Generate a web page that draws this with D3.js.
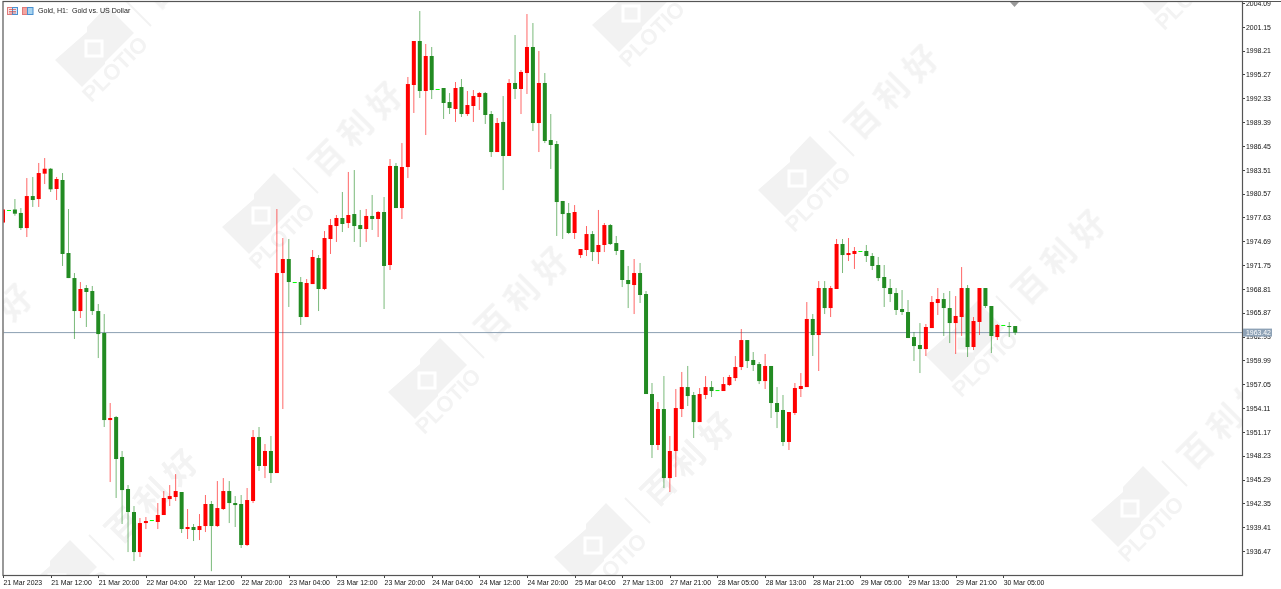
<!DOCTYPE html>
<html>
<head>
<meta charset="utf-8">
<style>
    html, body { margin: 0; padding: 0; background: #fff; overflow: hidden; }
    #chart { width: 1281px; height: 589px; }
    #chart svg { filter: blur(0.3px); }
    .axis path, .axis line { stroke: #444; shape-rendering: crispEdges; }
    .axis text { font-family: "Liberation Sans", sans-serif; font-size: 6.9px; fill: #111; }
    .mark { font-family: "Noto Sans CJK SC", sans-serif; fill: #f3f3f3; }
</style>
<script src="https://cdnjs.cloudflare.com/ajax/libs/d3/7.8.5/d3.min.js"></script>
</head>
<body>
<div id="chart"></div>
<script>

// hourly gold candles
const opens = [
    1977.00,1978.55,1978.61,1978.18,1976.32,1980.27,1979.90,1983.03,1983.64,1981.14,
    1982.25,1973.24,1970.15,1966.08,1968.92,1968.55,1966.08,1963.37,1952.63,1953.00,
    1948.07,1944.12,1941.28,1936.34,1939.92,1940.29,1940.05,1940.91,1942.88,1943.13,
    1943.75,1939.18,1939.43,1939.06,1939.55,1942.27,1939.55,1941.65,1943.87,1942.39,
    1942.27,1937.21,1942.64,1950.53,1946.96,1948.81,1946.09,1970.77,1972.50,1969.66,
    1969.66,1965.34,1969.41,1972.62,1968.80,1974.97,1976.57,1977.56,1976.94,1978.05,
    1976.69,1976.20,1977.81,1977.44,1978.30,1971.76,1983.98,1978.79,1983.85,1993.97,
    1999.40,1993.23,1997.55,1993.48,1993.60,1991.87,1991.01,1993.72,1990.39,1991.38,
    1992.49,1992.98,1990.39,1985.70,1989.41,1985.21,1994.22,1993.48,1995.45,1998.66,
    1989.28,1994.22,1987.18,1986.69,1979.66,1978.18,1975.71,1972.99,1973.61,1975.58,
    1973.36,1974.23,1976.69,1974.47,1973.61,1969.91,1969.29,1970.77,1968.18,1955.84,
    1949.55,1953.99,1945.47,1948.81,1953.99,1956.70,1955.72,1952.38,1955.72,1956.70,
    1956.33,1956.21,1956.95,1957.81,1959.17,1962.50,1960.04,1959.54,1957.44,1959.30,
    1954.73,1953.87,1949.92,1953.50,1956.46,1956.70,1965.10,1963.12,1968.92,1966.45,
    1968.80,1974.35,1972.99,1973.12,1973.49,1973.49,1972.87,1971.76,1970.28,1968.92,
    1968.30,1966.33,1965.96,1962.87,1961.89,1961.39,1963.98,1967.07,1967.56,1966.45,
    1964.60,1965.34,1968.92,1961.64,1964.73,1968.92,1966.70,1962.87,1964.36,1964.23,
    1964.23
];
const highs = [
    1978.67,1978.55,1979.90,1978.79,1982.49,1982.62,1984.35,1984.96,1983.73,1982.62,
    1983.11,1978.67,1970.77,1969.66,1969.29,1969.17,1966.95,1965.71,1954.73,1953.13,
    1948.81,1944.61,1942.02,1940.54,1940.66,1940.29,1942.39,1943.87,1944.61,1945.97,
    1943.75,1941.65,1939.80,1941.03,1943.38,1942.64,1945.10,1945.47,1945.10,1943.25,
    1943.38,1944.24,1951.40,1951.77,1949.67,1950.66,1978.67,1975.09,1974.97,1969.66,
    1970.28,1970.03,1973.61,1972.99,1975.95,1977.44,1977.93,1980.77,1983.24,1983.48,
    1978.55,1978.67,1980.40,1978.42,1980.15,1984.84,1984.35,1986.81,1994.96,1999.40,
    2003.10,1999.03,1998.66,1993.48,1993.60,1992.98,1994.34,1994.71,1993.23,1993.35,
    1993.11,1993.11,1990.76,1989.90,1992.61,1994.71,2000.14,1995.82,2002.73,2001.62,
    1998.17,1995.45,1990.39,1987.06,1979.66,1979.41,1979.16,1973.73,1976.57,1975.95,
    1978.55,1976.94,1976.82,1975.34,1973.61,1971.64,1972.50,1972.01,1968.55,1957.20,
    1954.85,1958.06,1950.66,1956.46,1958.56,1959.30,1956.09,1956.58,1958.06,1957.44,
    1956.33,1957.94,1958.19,1960.53,1963.86,1962.50,1961.02,1959.79,1960.78,1959.30,
    1956.70,1955.72,1953.62,1957.20,1958.43,1967.19,1965.71,1969.78,1969.78,1969.17,
    1974.97,1974.97,1975.09,1973.98,1973.49,1974.23,1973.24,1972.75,1971.76,1970.03,
    1968.92,1968.67,1967.44,1963.49,1964.60,1964.48,1967.93,1968.92,1968.30,1968.55,
    1967.93,1971.51,1969.29,1965.34,1968.92,1968.92,1966.70,1964.48,1964.36,1964.72,
    1964.23
];
const lows = [
    1976.94,1978.55,1977.84,1976.08,1975.21,1978.92,1978.92,1981.75,1980.77,1979.78,
    1971.64,1970.15,1962.63,1965.22,1964.11,1965.59,1960.28,1951.77,1944.98,1943.01,
    1939.80,1936.34,1935.23,1935.73,1939.18,1940.29,1939.18,1940.91,1942.02,1942.64,
    1938.69,1937.95,1937.70,1937.82,1938.81,1933.98,1939.43,1941.53,1939.92,1939.43,
    1936.84,1937.08,1942.39,1946.34,1945.47,1944.86,1946.09,1953.99,1966.58,1969.66,
    1964.36,1965.34,1969.41,1966.08,1968.67,1973.12,1974.60,1975.83,1976.32,1974.60,
    1973.98,1974.60,1976.08,1975.21,1966.33,1971.14,1978.79,1977.44,1982.49,1990.52,
    1992.37,1987.80,1992.24,1993.48,1989.78,1990.39,1989.41,1990.02,1990.15,1989.41,
    1990.89,1989.16,1985.09,1985.70,1981.01,1985.21,1992.24,1990.39,1992.86,1988.29,
    1985.70,1986.81,1983.61,1975.34,1974.97,1975.58,1974.97,1972.62,1972.87,1972.25,
    1971.88,1973.36,1974.23,1972.99,1969.04,1966.45,1965.71,1967.07,1955.84,1947.94,
    1948.93,1944.24,1943.75,1945.60,1953.00,1954.36,1950.41,1952.38,1955.22,1955.47,
    1956.33,1956.21,1956.83,1957.44,1958.80,1959.05,1958.68,1957.07,1956.46,1952.88,
    1951.64,1949.42,1948.93,1953.25,1955.47,1956.70,1960.53,1958.68,1965.71,1965.34,
    1968.80,1970.77,1972.25,1971.27,1973.49,1972.13,1971.14,1969.78,1966.58,1967.19,
    1965.59,1965.59,1962.75,1959.91,1958.43,1960.53,1963.98,1965.59,1963.00,1962.13,
    1960.78,1963.00,1960.41,1961.27,1963.12,1966.45,1960.90,1962.50,1964.36,1962.87,
    1963.12
];
const closes = [
    1978.61,1978.55,1978.09,1976.32,1980.27,1979.78,1983.11,1983.64,1981.10,1982.37,
    1973.12,1970.15,1966.08,1968.80,1968.43,1966.08,1963.24,1952.63,1952.88,1947.82,
    1943.99,1941.28,1936.34,1939.92,1940.17,1940.29,1940.91,1943.01,1943.25,1943.87,
    1939.18,1939.43,1939.06,1939.55,1942.27,1939.55,1941.77,1943.87,1942.39,1942.14,
    1937.21,1942.76,1950.53,1946.96,1948.81,1946.09,1970.77,1972.50,1969.66,1969.66,
    1965.34,1969.54,1972.75,1968.80,1975.09,1976.69,1977.56,1976.82,1977.93,1976.57,
    1976.20,1977.81,1977.44,1978.30,1971.64,1983.98,1978.79,1983.85,1994.09,1999.40,
    1993.23,1997.55,1993.35,1993.48,1991.75,1991.13,1993.60,1990.39,1991.50,1992.61,
    1992.98,1990.27,1985.70,1989.28,1985.21,1994.22,1993.48,1995.58,1998.66,1989.28,
    1994.22,1987.06,1986.57,1979.53,1978.05,1975.71,1978.30,1973.73,1975.58,1973.36,
    1974.23,1976.69,1974.35,1973.49,1969.91,1969.41,1970.77,1968.06,1955.84,1949.55,
    1953.99,1945.47,1948.81,1954.11,1956.70,1955.59,1952.38,1955.84,1956.70,1956.21,
    1956.33,1957.07,1957.94,1959.17,1962.50,1959.91,1959.42,1957.44,1959.30,1954.73,
    1953.62,1949.92,1953.62,1956.58,1956.83,1965.10,1963.12,1968.92,1966.45,1968.92,
    1974.35,1972.99,1973.24,1973.49,1973.49,1972.87,1971.64,1970.15,1968.92,1968.18,
    1966.21,1965.96,1962.75,1961.76,1961.39,1964.11,1967.19,1967.56,1966.45,1964.60,
    1965.47,1968.92,1961.64,1964.85,1968.92,1966.70,1963.00,1964.36,1964.36,1964.17,
    1963.42
];

const priceTicks = [2004.09,2001.15,1998.21,1995.27,1992.33,1989.39,1986.45,1983.51,1980.57,1977.63,
    1974.69,1971.75,1968.81,1965.87,1962.93,1959.99,1957.05,1954.11,1951.17,1948.23,
    1945.29,1942.35,1939.41,1936.47];
const timeLabels = ["21 Mar 2023","21 Mar 12:00","21 Mar 20:00","22 Mar 04:00","22 Mar 12:00","22 Mar 20:00",
    "23 Mar 04:00","23 Mar 12:00","23 Mar 20:00","24 Mar 04:00","24 Mar 12:00","24 Mar 20:00","25 Mar 04:00",
    "27 Mar 13:00","27 Mar 21:00","28 Mar 05:00","28 Mar 13:00","28 Mar 21:00","29 Mar 05:00","29 Mar 13:00",
    "29 Mar 21:00","30 Mar 05:00"];
const lastPrice = 1963.42;
const barsPerLabel = 8;

class CandleVis {
    constructor(parentElement) {
        this.parentElement = parentElement;
        this.displayData = d3.range(opens.length).map(i => (
            {i: i, open: opens[i], high: highs[i], low: lows[i], close: closes[i]}
        ));
        this.initVis();
    }

    initVis() {
        let vis = this;

        vis.frame = {left: 3.5, right: 1242, top: 2, bottom: 575};

        vis.svg = d3.select(vis.parentElement)
            .append("svg")
            .attr("width", 1281)
            .attr("height", 589);

        vis.xScale = d3.scaleLinear()
            .domain([0, opens.length - 1])
            .range([3, 1015.2]);

        vis.yScale = d3.scaleLinear()
            .domain([priceTicks[priceTicks.length - 1], priceTicks[0]])
            .range([551, 3]);

        vis.svg.append("clipPath")
            .attr("id", "plotClip")
            .append("rect")
            .attr("x", vis.frame.left)
            .attr("y", vis.frame.top)
            .attr("width", vis.frame.right - vis.frame.left)
            .attr("height", vis.frame.bottom - vis.frame.top);

        vis.drawWatermarks();
        vis.updateVis();
        vis.drawFrame();
    }

    // PLOTIO tiles are laid out on a skewed grid
    drawWatermarks() {
        let vis = this;
        let tips = [[-148,429],[18,594],[55,60],[222,227],[388,392],[554,557],
            [592,25],[758,190],[925,355],[1091,520],[1128,-12]];

        let marks = vis.svg.append("g")
            .attr("clip-path", "url(#plotClip)")
            .selectAll(".tile")
            .data(tips)
            .enter()
            .append("g")
            .attr("class", "tile")
            .attr("transform", d => `translate(${d[0]},${d[1]})`);

        marks.append("path")
            .attr("d", "M0,0L32,-28L32,-33L52,-54L79,-27L50,2L50,4L27,27Z")
            .attr("fill", "#f2f2f2");

        marks.append("rect")
            .attr("x", 31)
            .attr("y", -19)
            .attr("width", 16)
            .attr("height", 15)
            .attr("fill", "#f3f3f3")
            .attr("stroke", "#fff")
            .attr("stroke-width", 3);

        marks.append("text")
            .attr("class", "mark")
            .attr("transform", "translate(60,9) rotate(-45)")
            .attr("text-anchor", "middle")
            .attr("dominant-baseline", "central")
            .style("font-family", "'Liberation Sans', sans-serif")
            .style("font-weight", "bold")
            .style("font-size", "22px")
            .text("PLOTIO");

        marks.append("line")
            .attr("x1", 71)
            .attr("y1", -59)
            .attr("x2", 96)
            .attr("y2", -34)
            .attr("stroke", "#f2f2f2")
            .attr("stroke-width", 2);

        marks.append("text")
            .attr("class", "mark")
            .attr("transform", "translate(135,-102) rotate(-45)")
            .attr("text-anchor", "middle")
            .attr("dominant-baseline", "central")
            .style("font-size", "33px")
            .style("font-weight", "bold")
            .style("letter-spacing", "8px")
            .text("百利好");
    }

    updateVis() {
        let vis = this;

        let plot = vis.svg.append("g")
            .attr("clip-path", "url(#plotClip)");

        let color = d => d.close > d.open ? "#ff0000" : (d.close < d.open ? "#228b22" : "#00ff00");

        plot.append("line")
            .attr("x1", vis.frame.left)
            .attr("x2", vis.frame.right)
            .attr("y1", vis.yScale(lastPrice))
            .attr("y2", vis.yScale(lastPrice))
            .attr("stroke", "#8c9fb2")
            .attr("stroke-width", 1);

        plot.selectAll(".wick")
            .data(vis.displayData)
            .enter()
            .append("line")
            .attr("class", "wick")
            .attr("x1", d => vis.xScale(d.i))
            .attr("x2", d => vis.xScale(d.i))
            .attr("y1", d => vis.yScale(d.high))
            .attr("y2", d => vis.yScale(d.low))
            .attr("stroke", color)
            .attr("stroke-opacity", 0.6)
            .attr("stroke-width", 1);

        plot.selectAll(".body")
            .data(vis.displayData)
            .enter()
            .append("rect")
            .attr("class", "body")
            .attr("x", d => vis.xScale(d.i) - 2)
            .attr("y", d => vis.yScale(Math.max(d.open, d.close)))
            .attr("width", 4)
            .attr("height", d => Math.max(1, Math.abs(vis.yScale(d.open) - vis.yScale(d.close))))
            .attr("fill", color);
    }

    drawFrame() {
        let vis = this;

        let yAxis = d3.axisRight(vis.yScale)
            .tickValues(priceTicks)
            .tickSize(3)
            .tickPadding(1)
            .tickFormat(d3.format(".2f"));

        vis.svg.append("g")
            .attr("class", "axis")
            .attr("transform", `translate(${vis.frame.right},0)`)
            .call(yAxis)
            .call(g => g.select(".domain").remove());

        let xAxis = d3.axisBottom(vis.xScale)
            .tickValues(timeLabels.map((d, i) => i * barsPerLabel))
            .tickSize(3)
            .tickPadding(2)
            .tickFormat((d, i) => timeLabels[i]);

        vis.svg.append("g")
            .attr("class", "axis")
            .attr("transform", `translate(0,${vis.frame.bottom})`)
            .call(xAxis)
            .call(g => g.select(".domain").remove())
            .selectAll("text")
            .style("text-anchor", "start");

        // chart border
        vis.svg.append("rect")
            .attr("x", vis.frame.left - 0.5)
            .attr("y", vis.frame.top - 0.5)
            .attr("width", vis.frame.right - vis.frame.left + 1)
            .attr("height", vis.frame.bottom - vis.frame.top + 1)
            .attr("fill", "none")
            .attr("stroke", "#555")
            .attr("stroke-width", 1.2);

        // top edge runs on over the price column
        vis.svg.append("line")
            .attr("x1", vis.frame.right)
            .attr("x2", 1281)
            .attr("y1", vis.frame.top - 0.5)
            .attr("y2", vis.frame.top - 0.5)
            .attr("stroke", "#555")
            .attr("stroke-width", 1.2);

        // shift marker on the top edge
        vis.svg.append("path")
            .attr("d", "M1010,2L1019,2L1014.5,7Z")
            .attr("fill", "#999");

        // last price tag
        let tag = vis.svg.append("g");
        tag.append("rect")
            .attr("x", 1243)
            .attr("y", vis.yScale(lastPrice) - 4)
            .attr("width", 29)
            .attr("height", 8)
            .attr("fill", "#8ea2b6");
        tag.append("text")
            .attr("x", 1246)
            .attr("y", vis.yScale(lastPrice))
            .attr("dy", "0.32em")
            .attr("fill", "#fff")
            .style("font-family", "'Liberation Sans', sans-serif")
            .style("font-size", "6.9px")
            .text(d3.format(".2f")(lastPrice));

        vis.drawHeader();
    }

    drawHeader() {
        let vis = this;
        let head = vis.svg.append("g");

        head.append("rect").attr("x", 7.5).attr("y", 7.5).attr("width", 10).attr("height", 7)
            .attr("fill", "#fbe3e3").attr("stroke", "#e07a7a");
        head.append("rect").attr("x", 12.5).attr("y", 7.5).attr("width", 5).attr("height", 7)
            .attr("fill", "#d7e8f8").attr("stroke", "#4a90d0");
        head.append("path").attr("d", "M9,9.5h7M9,11.5h7M9,13h7").attr("stroke", "#d04a4a").attr("stroke-width", 0.7);

        head.append("rect").attr("x", 22.5).attr("y", 7.5).attr("width", 5).attr("height", 7)
            .attr("fill", "#f3a5a0").attr("stroke", "#e07a7a");
        head.append("rect").attr("x", 27.5).attr("y", 7.5).attr("width", 5.5).attr("height", 7)
            .attr("fill", "#a8d4f0").attr("stroke", "#4a90d0");

        head.append("text")
            .attr("x", 38)
            .attr("y", 10.5)
            .attr("dy", "0.32em")
            .attr("fill", "#222")
            .style("white-space", "pre")
            .style("font-family", "'Liberation Sans', sans-serif")
            .style("font-size", "7.1px")
            .text("Gold, H1:  Gold vs. US Dollar");
    }
}

new CandleVis(document.getElementById("chart"));
</script>
</body>
</html>
